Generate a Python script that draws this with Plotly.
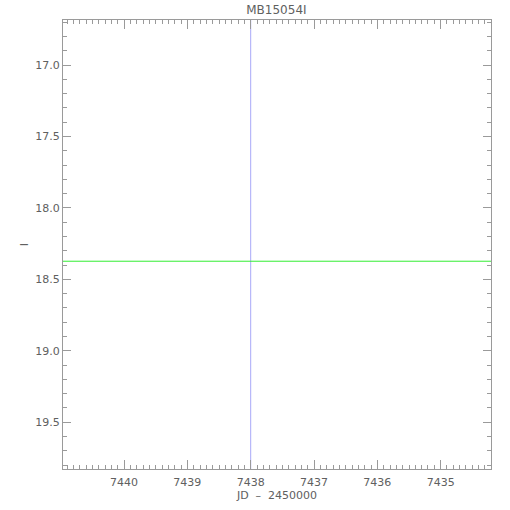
import plotly.graph_objects as go

# Data
title_text = "MB15054I"
x_range = [7440.964, 7434.205]   # reversed JD axis
y_range = [19.827, 16.685]       # reversed magnitude axis
t0_x = [7438.0, 7438.0]          # vertical marker line
t0_y = [16.685, 19.827]
base_x = [7440.964, 7434.205]    # baseline magnitude line
base_y = [18.373, 18.373]
x_ticks = [7440, 7439, 7438, 7437, 7436, 7435]
y_ticks = [17.0, 17.5, 18.0, 18.5, 19.0, 19.5]

axis_col = "#9a9a9a"
text_col = "#606060"
font_fam = "DejaVu Sans"

fig = go.Figure()
fig.add_trace(go.Scatter(x=t0_x, y=t0_y, mode="lines",
                         line=dict(color="#a8a8f8", width=1), showlegend=False, hoverinfo="skip"))
fig.add_trace(go.Scatter(x=base_x, y=base_y, mode="lines",
                         line=dict(color="#33ee33", width=1), showlegend=False, hoverinfo="skip"))

fig.update_layout(
    width=510, height=510,
    margin=dict(l=63, r=19, t=20, b=41, autoexpand=False),
    paper_bgcolor="white", plot_bgcolor="white",
    title=dict(text=title_text, x=0.542, xanchor="center", y=0.981, yanchor="middle",
               font=dict(family=font_fam, size=12, color=text_col), automargin=False),
    font=dict(family=font_fam, size=11, color=text_col),
)
fig.update_xaxes(
    range=x_range, tickvals=x_ticks, ticktext=[str(v) for v in x_ticks],
    showgrid=False, zeroline=False, showline=True, linecolor=axis_col, linewidth=1,
    mirror="ticks", ticks="inside", ticklen=9, tickcolor=axis_col, tickwidth=1,
    minor=dict(ticks="inside", dtick=0.1, tick0=7434, ticklen=4, tickcolor=axis_col, showgrid=False),
    tickfont=dict(size=11, color=text_col), automargin=False, ticklabelstandoff=3,
    title=dict(text="JD  \u2013  2450000", font=dict(size=11, color=text_col), standoff=2),
)
fig.update_yaxes(
    range=y_range, tickvals=y_ticks, ticktext=["%.1f" % v for v in y_ticks],
    showgrid=False, zeroline=False, showline=True, linecolor=axis_col, linewidth=1,
    mirror="ticks", ticks="inside", ticklen=8, tickcolor=axis_col, tickwidth=1,
    minor=dict(ticks="inside", dtick=0.1, tick0=17.0, ticklen=4, tickcolor=axis_col, showgrid=False),
    tickfont=dict(size=11, color=text_col), automargin=False,
    title=dict(text="I", font=dict(size=11, color=text_col), standoff=4),
)

fig.write_html("out.html", config={"displayModeBar": False},
               post_script="document.body.style.margin='0';document.body.style.overflow='hidden';")
